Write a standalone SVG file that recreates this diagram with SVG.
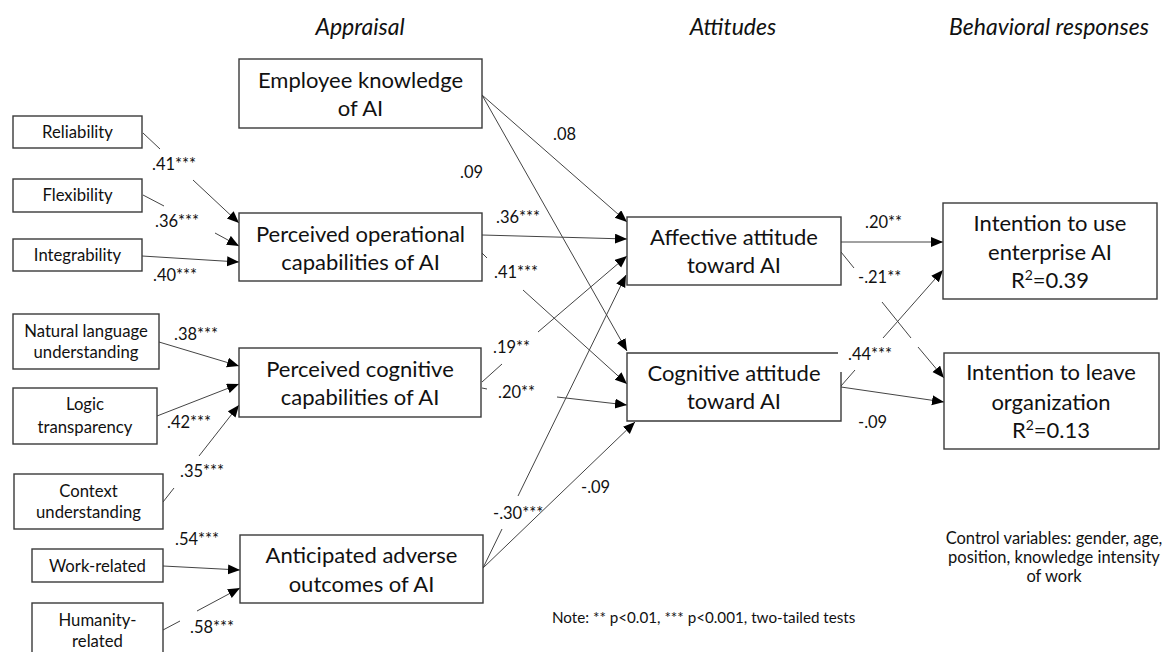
<svg xmlns="http://www.w3.org/2000/svg" width="1171" height="652" viewBox="0 0 1171 652">
<defs>
<marker id="ah" markerUnits="userSpaceOnUse" markerWidth="13" markerHeight="11" refX="12" refY="5" orient="auto">
<path d="M0,0 L12,5 L0,10 z" fill="#000"/>
</marker>
<style>
.box{fill:#fff;stroke:#3a3a3a;stroke-width:1.4}
.t{font-family:Lato,"Liberation Sans",sans-serif;fill:#111;text-anchor:middle}
.big{font-size:22px}
.sm{font-size:16.7px}
.lb{font-family:Lato,"Liberation Sans",sans-serif;font-size:16.5px;fill:#111}
.note{font-family:Lato,"Liberation Sans",sans-serif;font-size:15.2px;fill:#111}
.hd{font-family:Lato,"Liberation Sans",sans-serif;font-size:23px;font-style:italic;fill:#111;text-anchor:middle}
.c{fill:none;stroke:#444;stroke-width:1;marker-end:url(#ah)}
</style>
</defs>
<rect width="1171" height="652" fill="#fff"/>
<g id="headers">
<text class="hd" x="360" y="35">Appraisal</text>
<text class="hd" x="733" y="35">Attitudes</text>
<text class="hd" x="1049" y="35">Behavioral responses</text>
</g>
<g id="connectors">
<path class="c" d="M143,133 L160,149 M193,180 L239,223"/>
<path class="c" d="M143,195 L164,206 M215,233 L239,246"/>
<path class="c" d="M142,256 L239,262"/>
<path class="c" d="M159,342 L239,366"/>
<path class="c" d="M157,416 L239,384"/>
<path class="c" d="M163,502 L174,488 M199,456 L239,405"/>
<path class="c" d="M163,566 L240,570"/>
<path class="c" d="M163,630 L180,621 M197,611 L240,588"/>
<path class="c" d="M482,95 L627,222"/>
<path class="c" d="M482,95 L627,351"/>
<path class="c" d="M482,235 L627,239"/>
<path class="c" d="M482,253 L487,258 M523,290 L627,384"/>
<path class="c" d="M482,382 L502,364 M538,332 L627,256"/>
<path class="c" d="M482,388 L487,389 M557,397 L627,405"/>
<path class="c" d="M483,568 L502,529 M518,496 L626,275"/>
<path class="c" d="M483,568 L635,422"/>
<path class="c" d="M841,242 L943,242"/>
<path class="c" d="M841,252 L854,268 M882,302 L911,338 M918,347 L944,378"/>
<path class="c" d="M841,386 L855,370 M883,338 L943,270"/>
<path class="c" d="M841,387 L944,402"/>
</g>
<g id="n-reliability"><rect class="box" x="13" y="116" width="129" height="32"/><text class="t sm" x="77.5" y="138">Reliability</text></g>
<g id="n-flexibility"><rect class="box" x="13" y="179" width="129" height="33"/><text class="t sm" x="77.5" y="201">Flexibility</text></g>
<g id="n-integrability"><rect class="box" x="13" y="239" width="129" height="32"/><text class="t sm" x="77.5" y="261">Integrability</text></g>
<g id="n-nlu"><rect class="box" x="13" y="314" width="146" height="55"/><text class="t sm" x="86" y="337">Natural language</text><text class="t sm" x="86" y="358">understanding</text></g>
<g id="n-logic"><rect class="box" x="13" y="388" width="144" height="56"/><text class="t sm" x="85" y="410">Logic</text><text class="t sm" x="85" y="433">transparency</text></g>
<g id="n-context"><rect class="box" x="14" y="474" width="149" height="55"/><text class="t sm" x="88.5" y="497">Context</text><text class="t sm" x="88.5" y="518">understanding</text></g>
<g id="n-work"><rect class="box" x="32" y="549" width="131" height="33"/><text class="t sm" x="97.5" y="572">Work-related</text></g>
<g id="n-humanity"><rect class="box" x="32" y="603" width="131" height="60"/><text class="t sm" x="97.5" y="626">Humanity-</text><text class="t sm" x="97.5" y="647">related</text></g>
<g id="n-knowledge"><rect class="box" x="239" y="59" width="243" height="69"/><text class="t big" x="360.5" y="88">Employee knowledge</text><text class="t big" x="360.5" y="116">of AI</text></g>
<g id="n-operational"><rect class="box" x="239" y="213" width="243" height="68"/><text class="t big" x="360.5" y="242">Perceived operational</text><text class="t big" x="360.5" y="270">capabilities of AI</text></g>
<g id="n-cognitive-cap"><rect class="box" x="239" y="348" width="242" height="69"/><text class="t big" x="360" y="377">Perceived cognitive</text><text class="t big" x="360" y="405">capabilities of AI</text></g>
<g id="n-adverse"><rect class="box" x="240" y="535" width="243" height="68"/><text class="t big" x="361.5" y="563">Anticipated adverse</text><text class="t big" x="361.5" y="592">outcomes of AI</text></g>
<g id="n-affective"><rect class="box" x="627" y="217" width="214" height="68"/><text class="t big" x="734" y="245">Affective attitude</text><text class="t big" x="734" y="273">toward AI</text></g>
<g id="n-cognitive-att"><path class="box" d="M838,353 H627 V421 H841 V372"/><text class="t big" x="734" y="381">Cognitive attitude</text><text class="t big" x="734" y="409">toward AI</text></g>
<g id="n-use"><rect class="box" x="943" y="203" width="214" height="96"/><text class="t big" x="1050" y="231">Intention to use</text><text class="t big" x="1050" y="260">enterprise AI</text><text class="t big" x="1050" y="288">R<tspan font-size="14" dy="-8">2</tspan><tspan dy="8">=0.39</tspan></text></g>
<g id="n-leave"><rect class="box" x="944" y="353" width="215" height="96"/><text class="t big" x="1051" y="380">Intention to leave</text><text class="t big" x="1051" y="410">organization</text><text class="t big" x="1051" y="438">R<tspan font-size="14" dy="-8">2</tspan><tspan dy="8">=0.13</tspan></text></g>
<g id="labels">
<text class="lb" x="152" y="170">.41***</text>
<text class="lb" x="155" y="227">.36***</text>
<text class="lb" x="153" y="281">.40***</text>
<text class="lb" x="174" y="340">.38***</text>
<text class="lb" x="167" y="428">.42***</text>
<text class="lb" x="180" y="477">.35***</text>
<text class="lb" x="175" y="545">.54***</text>
<text class="lb" x="190" y="633">.58***</text>
<text class="lb" x="553" y="140">.08</text>
<text class="lb" x="460" y="178">.09</text>
<text class="lb" x="496" y="223">.36***</text>
<text class="lb" x="494" y="278">.41***</text>
<text class="lb" x="493" y="353">.19**</text>
<text class="lb" x="498" y="398">.20**</text>
<text class="lb" x="493" y="519">-.30***</text>
<text class="lb" x="581" y="493">-.09</text>
<text class="lb" x="865" y="228">.20**</text>
<text class="lb" x="858" y="283">-.21**</text>
<text class="lb" x="848" y="360">.44***</text>
<text class="lb" x="858" y="428">-.09</text>
</g>
<g id="notes">
<text class="note" x="552" y="623">Note: ** p&lt;0.01, *** p&lt;0.001, two-tailed tests</text>
<text class="t" font-size="16.5" x="1054" y="544">Control variables: gender, age,</text>
<text class="t" font-size="16.5" x="1054" y="563">position, knowledge intensity</text>
<text class="t" font-size="16.5" x="1054" y="582">of work</text>
</g>
</svg>
